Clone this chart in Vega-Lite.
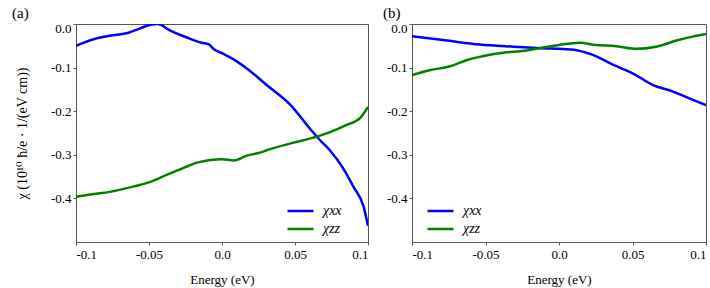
{
  "$schema": "https://vega.github.io/schema/vega-lite/v6.json",
  "autosize": {"type": "pad"},
  "padding": {"left": 11, "top": 5, "right": 0, "bottom": 0},
  "bounds": "flush",
  "spacing": 44,
  "config": {
    "font": "Liberation Serif, Times New Roman, DejaVu Serif, serif",
    "view": {"stroke": "#555", "strokeWidth": 1},
    "axis": {
      "grid": false,
      "domainColor": "#555",
      "tickColor": "#555",
      "tickSize": 3,
      "labelFont": "Liberation Serif, Times New Roman, DejaVu Serif, serif",
      "labelFontSize": 13,
      "labelColor": "#000",
      "titleFont": "Liberation Serif, Times New Roman, DejaVu Serif, serif",
      "titleFontSize": 13,
      "titleFontWeight": "normal",
      "titleColor": "#000"
    },
    "legend": {
      "orient": "none",
      "title": null,
      "padding": 0,
      "symbolType": "stroke",
      "symbolSize": 676,
      "symbolStrokeWidth": 2.5,
      "clipHeight": 16,
      "rowPadding": 2,
      "labelOffset": 8,
      "labelFont": "Liberation Serif, Times New Roman, DejaVu Serif, serif",
      "labelFontSize": 14,
      "labelFontStyle": "italic",
      "labelColor": "#000"
    },
    "title": {"font": "Liberation Serif, Times New Roman, DejaVu Serif, serif", "fontSize": 15, "fontWeight": "normal", "color": "#000"}
  },
  "datasets": {
    "a": [
      {"e": -0.1, "chi": -0.05, "s": "χxx"},
      {"e": -0.088, "chi": -0.035, "s": "χxx"},
      {"e": -0.077, "chi": -0.027, "s": "χxx"},
      {"e": -0.064, "chi": -0.02, "s": "χxx"},
      {"e": -0.056, "chi": -0.01, "s": "χxx"},
      {"e": -0.048, "chi": -0.001, "s": "χxx"},
      {"e": -0.044, "chi": 0.0, "s": "χxx"},
      {"e": -0.036, "chi": -0.014, "s": "χxx"},
      {"e": -0.024, "chi": -0.031, "s": "χxx"},
      {"e": -0.014, "chi": -0.043, "s": "χxx"},
      {"e": -0.009, "chi": -0.047, "s": "χxx"},
      {"e": -0.0055, "chi": -0.058, "s": "χxx"},
      {"e": 0.0, "chi": -0.067, "s": "χxx"},
      {"e": 0.008, "chi": -0.081, "s": "χxx"},
      {"e": 0.017, "chi": -0.102, "s": "χxx"},
      {"e": 0.031, "chi": -0.141, "s": "χxx"},
      {"e": 0.047, "chi": -0.186, "s": "χxx"},
      {"e": 0.06, "chi": -0.239, "s": "χxx"},
      {"e": 0.067, "chi": -0.266, "s": "χxx"},
      {"e": 0.074, "chi": -0.29, "s": "χxx"},
      {"e": 0.083, "chi": -0.331, "s": "χxx"},
      {"e": 0.09, "chi": -0.373, "s": "χxx"},
      {"e": 0.097, "chi": -0.419, "s": "χxx"},
      {"e": 0.1, "chi": -0.463, "s": "χxx"},
      {"e": -0.1, "chi": -0.396, "s": "χzz"},
      {"e": -0.088, "chi": -0.39, "s": "χzz"},
      {"e": -0.077, "chi": -0.385, "s": "χzz"},
      {"e": -0.061, "chi": -0.373, "s": "χzz"},
      {"e": -0.049, "chi": -0.362, "s": "χzz"},
      {"e": -0.038, "chi": -0.346, "s": "χzz"},
      {"e": -0.027, "chi": -0.331, "s": "χzz"},
      {"e": -0.017, "chi": -0.318, "s": "χzz"},
      {"e": -0.008, "chi": -0.312, "s": "χzz"},
      {"e": 0.0, "chi": -0.31, "s": "χzz"},
      {"e": 0.008, "chi": -0.313, "s": "χzz"},
      {"e": 0.017, "chi": -0.302, "s": "χzz"},
      {"e": 0.026, "chi": -0.295, "s": "χzz"},
      {"e": 0.033, "chi": -0.287, "s": "χzz"},
      {"e": 0.049, "chi": -0.272, "s": "χzz"},
      {"e": 0.06, "chi": -0.263, "s": "χzz"},
      {"e": 0.074, "chi": -0.248, "s": "χzz"},
      {"e": 0.085, "chi": -0.232, "s": "χzz"},
      {"e": 0.0945, "chi": -0.216, "s": "χzz"},
      {"e": 0.1, "chi": -0.19, "s": "χzz"}
    ],
    "b": [
      {"e": -0.1, "chi": -0.028, "s": "χxx"},
      {"e": -0.076, "chi": -0.038, "s": "χxx"},
      {"e": -0.054, "chi": -0.047, "s": "χxx"},
      {"e": -0.031, "chi": -0.052, "s": "χxx"},
      {"e": -0.008, "chi": -0.056, "s": "χxx"},
      {"e": 0.0, "chi": -0.057, "s": "χxx"},
      {"e": 0.012, "chi": -0.06, "s": "χxx"},
      {"e": 0.023, "chi": -0.071, "s": "χxx"},
      {"e": 0.037, "chi": -0.094, "s": "χxx"},
      {"e": 0.051, "chi": -0.115, "s": "χxx"},
      {"e": 0.064, "chi": -0.14, "s": "χxx"},
      {"e": 0.076, "chi": -0.153, "s": "χxx"},
      {"e": 0.089, "chi": -0.171, "s": "χxx"},
      {"e": 0.1, "chi": -0.186, "s": "χxx"},
      {"e": -0.1, "chi": -0.117, "s": "χzz"},
      {"e": -0.088, "chi": -0.106, "s": "χzz"},
      {"e": -0.074, "chi": -0.097, "s": "χzz"},
      {"e": -0.063, "chi": -0.083, "s": "χzz"},
      {"e": -0.052, "chi": -0.074, "s": "χzz"},
      {"e": -0.038, "chi": -0.066, "s": "χzz"},
      {"e": -0.022, "chi": -0.061, "s": "χzz"},
      {"e": -0.011, "chi": -0.054, "s": "χzz"},
      {"e": 0.0, "chi": -0.048, "s": "χzz"},
      {"e": 0.014, "chi": -0.043, "s": "χzz"},
      {"e": 0.025, "chi": -0.048, "s": "χzz"},
      {"e": 0.039, "chi": -0.051, "s": "χzz"},
      {"e": 0.053, "chi": -0.057, "s": "χzz"},
      {"e": 0.066, "chi": -0.052, "s": "χzz"},
      {"e": 0.08, "chi": -0.038, "s": "χzz"},
      {"e": 0.091, "chi": -0.029, "s": "χzz"},
      {"e": 0.1, "chi": -0.023, "s": "χzz"}
    ]
  },
  "resolve": {"legend": {"color": "independent"}, "scale": {"color": "independent"}},
  "hconcat": [
    {
      "width": 292,
      "height": 218,
      "title": {"text": "(a)", "anchor": "start", "frame": "group", "dx": -64, "offset": -14, "baseline": "bottom"},
      "layer": [
        {
          "data": {"name": "a"},
          "mark": {"type": "line", "strokeWidth": 2.5, "interpolate": "monotone", "clip": true},
          "encoding": {
            "x": {"field": "e", "type": "quantitative", "scale": {"domain": [-0.1, 0.1], "nice": false, "zero": false},
              "axis": {"values": [-0.1, -0.05, 0, 0.05, 0.1], "labelExpr": "datum.value == 0 ? '0.0' : (datum.value < 0 ? '-' + format(-datum.value, '~g') : format(datum.value, '~g'))", "labelPadding": 3, "title": "Energy (eV)", "titleY": 37, "titleBaseline": "middle"}},
            "y": {"field": "chi", "type": "quantitative", "scale": {"domain": [-0.5, 0], "nice": false, "zero": false},
              "axis": {"values": [0, -0.1, -0.2, -0.3, -0.4], "labelExpr": "datum.value == 0 ? '0.0' : '-' + format(-datum.value, '.1f')", "labelOffset": {"condition": {"test": "datum.value == 0", "value": 4}, "value": 0}, "labelPadding": 2, "title": "χ (10¹⁰ ħ/e · 1/(eV cm))", "titleX": -54, "titleY": 109, "titleAngle": -90, "titleAlign": "center", "titleBaseline": "middle", "titleFontSize": 14}},
            "color": {"field": "s", "type": "nominal", "scale": {"domain": ["χxx", "χzz"], "range": ["#0000ff", "#008000"]},
              "legend": {"legendX": 210, "legendY": 179}}
          }
        },
        {
          "mark": {"type": "rule", "color": "#000", "strokeWidth": 1, "strokeDash": [2, 2]},
          "encoding": {"x": {"datum": 0}}
        }
      ]
    },
    {
      "width": 294,
      "height": 218,
      "title": {"text": "(b)", "anchor": "start", "frame": "group", "dx": -29, "offset": -14, "baseline": "bottom"},
      "layer": [
        {
          "data": {"name": "b"},
          "mark": {"type": "line", "strokeWidth": 2.5, "interpolate": "monotone", "clip": true},
          "encoding": {
            "x": {"field": "e", "type": "quantitative", "scale": {"domain": [-0.1, 0.1], "nice": false, "zero": false},
              "axis": {"values": [-0.1, -0.05, 0, 0.05, 0.1], "labelExpr": "datum.value == 0 ? '0.0' : (datum.value < 0 ? '-' + format(-datum.value, '~g') : format(datum.value, '~g'))", "labelPadding": 3, "title": "Energy (eV)", "titleY": 37, "titleBaseline": "middle"}},
            "y": {"field": "chi", "type": "quantitative", "scale": {"domain": [-0.5, 0], "nice": false, "zero": false},
              "axis": {"values": [0, -0.1, -0.2, -0.3, -0.4], "labelExpr": "datum.value == 0 ? '0.0' : '-' + format(-datum.value, '.1f')", "labelOffset": {"condition": {"test": "datum.value == 0", "value": 4}, "value": 0}, "labelPadding": 2, "title": null}},
            "color": {"field": "s", "type": "nominal", "scale": {"domain": ["χxx", "χzz"], "range": ["#0000ff", "#008000"]},
              "legend": {"legendX": 14, "legendY": 179}}
          }
        },
        {
          "mark": {"type": "rule", "color": "#000", "strokeWidth": 1, "strokeDash": [2, 2]},
          "encoding": {"x": {"datum": 0}}
        }
      ]
    }
  ]
}
